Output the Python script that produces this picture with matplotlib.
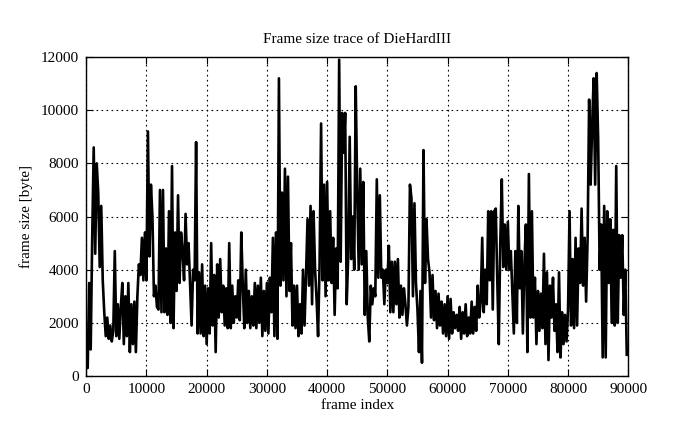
import numpy as np
import matplotlib.pyplot as plt

plt.rcParams["font.family"] = ["Liberation Serif", "DejaVu Serif"]

# frame size samples, one every 250 frames (20 values per 5000 frames)
step = 250
sizes = [
    1600, 300, 3500, 1000, 5200, 8600, 4600, 8000, 6900, 4100, 6400, 3600, 2400, 1500, 2200, 1400, 1900, 1300, 1700, 4700,
    1500, 2700, 1400, 2600, 3500, 1200, 3000, 1500, 3500, 900, 2700, 1200, 2800, 900, 3000, 4200, 3800, 5200, 3600, 5400,
    3600, 9200, 4500, 7200, 6000, 3000, 3400, 2600, 2500, 7000, 2400, 7000, 2400, 4800, 2300, 6200, 2000, 7900, 1800, 5400,
    3200, 6800, 3500, 5400, 4700, 3600, 6100, 4200, 5000, 3500, 1900, 4000, 3600, 8800, 1600, 3900, 1600, 4200, 1500, 3400,
    1200, 3300, 1600, 5000, 1900, 3800, 900, 4200, 2200, 4400, 2400, 3400, 1900, 3300, 1800, 5000, 1800, 3400, 2000, 3000,
    2200, 3600, 2100, 5400, 3400, 1800, 4000, 2000, 3200, 1800, 3000, 1900, 3500, 1800, 3400, 2000, 3700, 1500, 3200, 1700,
    3500, 1600, 3700, 2400, 5200, 1500, 5400, 1400, 11200, 3400, 6900, 3600, 7800, 3000, 7500, 3200, 5000, 1900, 3400, 1800,
    3400, 1500, 2700, 1600, 4000, 1900, 3800, 5900, 3400, 6400, 2700, 6200, 4000, 2900, 1500, 4200, 9500, 3600, 7200, 3000,
    7300, 3600, 6200, 3500, 5200, 2300, 4800, 3300, 11900, 4300, 9900, 8400, 9900, 2700, 4500, 9000, 4400, 6000, 4000, 10900,
    6900, 4000, 7800, 4200, 7300, 2300, 4700, 2200, 1300, 3400, 2700, 3300, 3000, 7400, 3700, 6800, 3700, 4000, 2700, 4000,
    3500, 4900, 2400, 4300, 2400, 4300, 2700, 4400, 2200, 3400, 2300, 3300, 2700, 1900, 2600, 7200, 6700, 3000, 6500, 3500,
    2500, 900, 3200, 500, 8500, 3500, 5900, 4400, 3900, 2200, 3800, 2100, 3200, 1800, 3100, 1900, 2800, 1600, 2700, 1500,
    3000, 1400, 2900, 1600, 2400, 1800, 2300, 1700, 2600, 1400, 2400, 1600, 2700, 1500, 2200, 1600, 2800, 1600, 2600, 1700,
    3400, 2200, 2800, 5200, 2400, 4000, 2700, 6200, 3600, 6200, 2500, 6200, 6300, 3600, 1200, 5000, 7400, 4100, 5700, 4000,
    5800, 4000, 4700, 3200, 1600, 4700, 2000, 6400, 3300, 4700, 1600, 4200, 5700, 900, 7600, 2200, 6200, 2200, 3700, 1200,
    3200, 1700, 3100, 1800, 4600, 1200, 3900, 600, 3400, 2200, 3700, 1700, 2700, 900, 3900, 700, 2400, 1200, 2300, 1300,
    2500, 6200, 1900, 4400, 1800, 5200, 1900, 4800, 3500, 6300, 3400, 5200, 2800, 5200, 10400, 7200, 9400, 11200, 7200, 11400,
    8900, 4000, 5700, 700, 6400, 700, 6200, 3500, 5900, 2000, 5500, 1900, 7900, 2000, 5300, 3700, 5300, 2300, 4000, 800,
]
frames = np.arange(len(sizes)) * step

xticks = [0, 10000, 20000, 30000, 40000, 50000, 60000, 70000, 80000, 90000]
yticks = [0, 2000, 4000, 6000, 8000, 10000, 12000]

fig = plt.figure(figsize=(6.95, 4.29), dpi=100)
ax = fig.add_axes([0.124, 0.1235, 0.78, 0.7435])

ax.plot(frames, sizes, color="black", linewidth=1.9)

ax.set_xlim(0, 90000)
ax.set_ylim(0, 12000)
ax.set_xticks(xticks)
ax.set_yticks(yticks)
ax.tick_params(direction="in", top=True, right=True, labelsize=11, length=5, pad=5)
ax.grid(True, color="black", linestyle=(0, (1.5, 3)), linewidth=0.8)
for s in ax.spines.values():
    s.set_linewidth(1.0)

ax.set_title("Frame size trace of DieHardIII", fontsize=11, pad=10)
ax.set_xlabel("frame index", fontsize=11, labelpad=2)
ax.set_ylabel("frame size [byte]", fontsize=11, labelpad=6)

fig.savefig("out.png", dpi=100)
